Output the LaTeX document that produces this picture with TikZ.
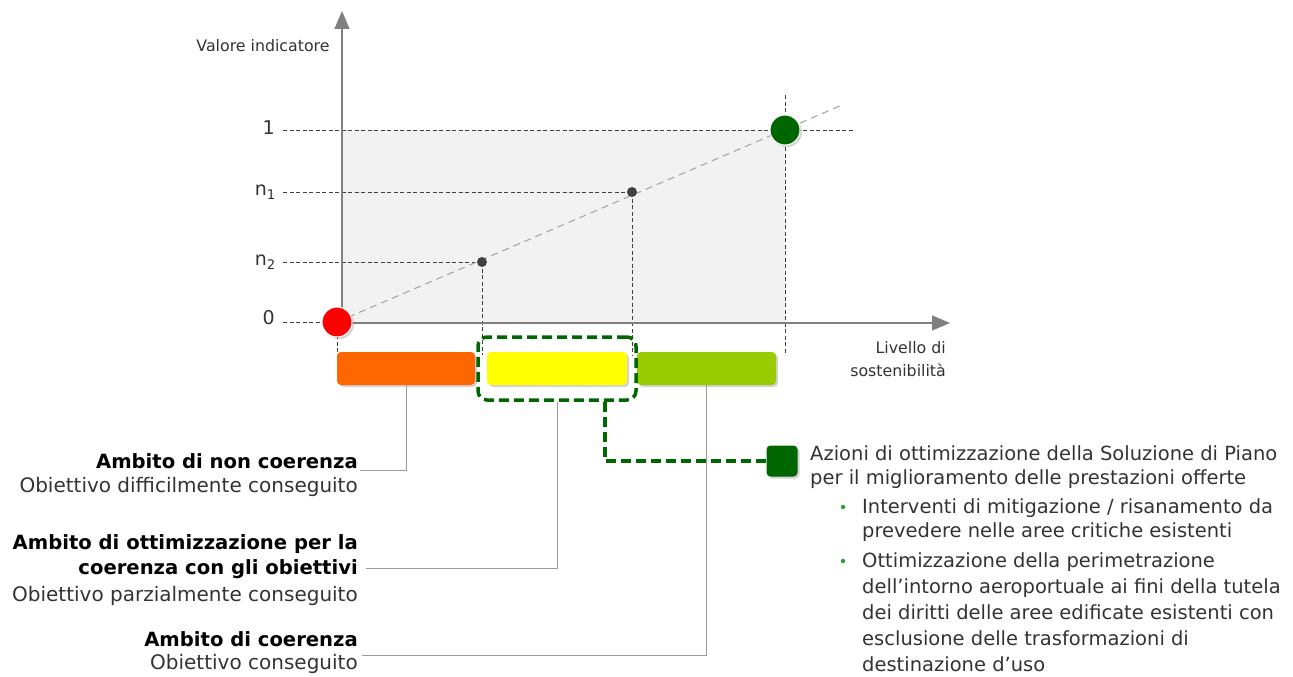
\documentclass[tikz,border=0pt]{standalone}
\usepackage{fontspec}
\setmainfont{DejaVu Sans}
\usetikzlibrary{arrows.meta,shadows}
\definecolor{panelgray}{HTML}{F2F2F2}
\definecolor{axisgray}{HTML}{808080}
\definecolor{guidegray}{HTML}{404040}
\definecolor{trendgray}{HTML}{A6A6A6}
\definecolor{leadgray}{HTML}{9A9A9A}
\definecolor{ptred}{HTML}{FF0000}
\definecolor{ptgreen}{HTML}{006600}
\definecolor{barorange}{HTML}{FF6600}
\definecolor{baryellow}{HTML}{FFFF00}
\definecolor{barlime}{HTML}{99CC00}
\definecolor{txtgray}{HTML}{333333}
\definecolor{bulgreen}{HTML}{339933}
\begin{document}
\begin{tikzpicture}[x=1pt,y=-1pt,
    axis/.style={draw=axisgray,line width=1.4pt,-{Triangle[width=15pt,length=18pt]}},
    guide/.style={draw=guidegray,line width=1pt,dash pattern=on 4pt off 2.5pt},
    trend/.style={draw=trendgray,line width=1.1pt,dash pattern=on 7pt off 5pt},
    bigdot/.style={circle,minimum size=30pt,inner sep=0pt,draw=white,line width=1pt,
      drop shadow={shadow xshift=2pt,shadow yshift=-2pt,opacity=0.35}},
    smalldot/.style={circle,minimum size=10pt,inner sep=0pt,fill=guidegray},
    bar/.style={rectangle,rounded corners=4pt,minimum height=33pt,inner sep=0pt,
      drop shadow={shadow xshift=2pt,shadow yshift=-2pt,opacity=0.35}},
    lvl/.style={anchor=east,inner sep=0pt,font=\fontsize{19}{21}\selectfont,text=txtgray},
    small/.style={inner sep=0pt,font=\fontsize{15.8}{23}\selectfont,text=txtgray},
    title/.style={anchor=east,inner sep=0pt,align=right,font=\fontsize{19.6}{25}\selectfont\bfseries},
    sub/.style={anchor=east,inner sep=0pt,font=\fontsize{20}{22}\selectfont,text=txtgray},
    leader/.style={draw=leadgray,line width=1pt},
    select/.style={draw=ptgreen,line width=3.5pt,dash pattern=on 10pt off 5pt,rounded corners=9pt},
    body/.style={anchor=north west,inner sep=0pt,align=left,font=\fontsize{19.5}{24}\selectfont,text=txtgray},
    bullet/.style={circle,inner sep=0pt,minimum size=4.5pt,fill=bulgreen}]
\useasboundingbox (0,0) rectangle (1293,677);

% grafico
\fill[panelgray] (342,130) rectangle (785,323);
\coordinate (c0) at (337,322);
\coordinate (c2) at (482,262);
\coordinate (c1) at (632,192);
\coordinate (c3) at (785,130);
\coordinate (ctop) at (785,95);
\coordinate (cend) at (842,105);

\node[lvl] (l1) at (275,128) {1};
\node[lvl] (ln1) at (276,192) {n\textsubscript{1}};
\node[lvl] (ln2) at (276,262) {n\textsubscript{2}};
\node[lvl] (l0) at (275,318) {0};
\coordinate (g1) at (855,130);

\draw[guide] (283,130) -- (g1);
\draw[guide] (283,192) -- (c1);
\draw[guide] (283,262) -- (c2);
\draw[guide] (283,322) -- (c0);
\draw[guide] (ctop) -- (785,355);
\draw[guide] (c1) -- (632,355);
\draw[guide] (c2) -- (482,355);
\draw[guide] (c0) -- (337,355);
\draw[trend] (c0) -- (cend);

\draw[axis] (342,323) -- (342,11);
\draw[axis] (337,323) -- (950,323);

\node[bigdot,fill=ptred] (p0) at (c0) {};
\node[smalldot] (p2) at (c2) {};
\node[smalldot] (p1) at (c1) {};
\node[bigdot,fill=ptgreen] (p3) at (c3) {};

\node[small,anchor=south] (ylab) at (263,52) {Valore indicatore};
\node[small,anchor=north east,align=right] (xlab) at (946,341) {Livello di\\sostenibilità};

% fasce
\node[bar,fill=barorange,minimum width=138pt] (bo) at (406,368.5) {};
\node[bar,fill=baryellow,minimum width=140pt] (by) at (557,368.5) {};
\node[bar,fill=barlime,minimum width=139pt] (bg) at (706.5,368.5) {};
\node[select,minimum width=158pt,minimum height=63pt,inner sep=0pt] (sel) at (557,368.5) {};

% ambiti
\node[title] (t1) at (358,461) {Ambito di non coerenza};
\node[sub] (s1) at (358,487) {Obiettivo difficilmente conseguito};
\node[title] (t2) at (358,557) {Ambito di ottimizzazione per la\\coerenza con gli obiettivi};
\node[sub] (s2) at (358,596) {Obiettivo parzialmente conseguito};
\node[title] (t3) at (358,639) {Ambito di coerenza};
\node[sub] (s3) at (358,664) {Obiettivo conseguito};
\coordinate (e1) at (360,470);
\coordinate (e2) at (366,568);
\coordinate (e3) at (362,655);
\draw[leader] (bo.south) |- (e1);
\draw[leader] (sel.south) |- (e2);
\draw[leader] (bg.south) |- (e3);

% azioni
\node[rectangle,rounded corners=4pt,fill=ptgreen,minimum size=31pt,inner sep=0pt,
  drop shadow={shadow xshift=2pt,shadow yshift=-2pt,opacity=0.35}] (act) at (782,461) {};
\draw[select,rounded corners=0pt] ([xshift=48pt]sel.south) |- (act.west);
\node[body] (az) at (810,445) {Azioni di ottimizzazione della Soluzione di Piano\\per il miglioramento delle prestazioni offerte};
\node[body] (i1) at (862,498) {Interventi di mitigazione / risanamento da\\prevedere nelle aree critiche esistenti};
\node[body,font=\fontsize{19.5}{26}\selectfont] (i2) at (862,552) {Ottimizzazione della perimetrazione\\dell’intorno aeroportuale ai fini della tutela\\dei diritti delle aree edificate esistenti con\\esclusione delle trasformazioni di\\destinazione d’uso};
\node[bullet] (d1) at (843,507) {};
\node[bullet] (d2) at (843,561) {};
\end{tikzpicture}
\end{document}
